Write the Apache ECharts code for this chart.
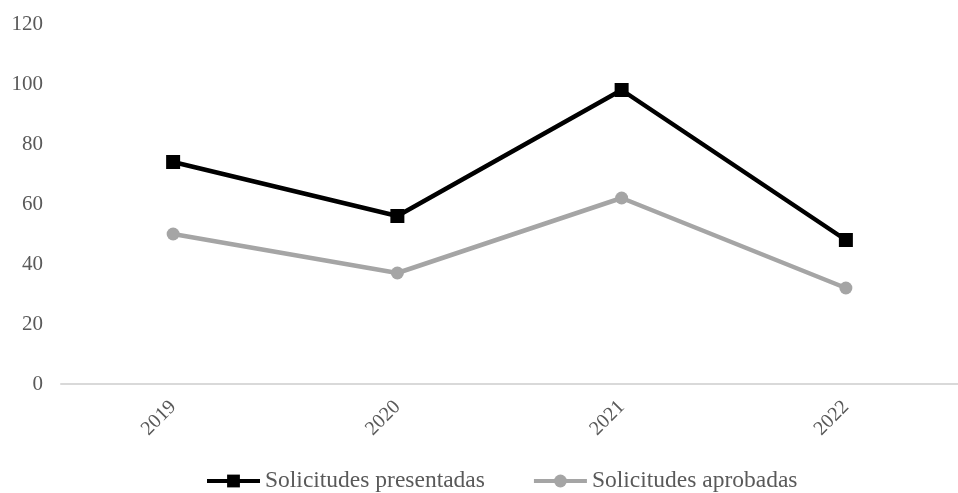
<!DOCTYPE html>
<html>
<head>
<meta charset="utf-8">
<script src="https://cdn.jsdelivr.net/npm/echarts@6/dist/echarts.min.js"></script>
<style>
  html, body { margin: 0; padding: 0; background: #fff; }
  #chart { width: 958px; height: 493px; }
</style>
</head>
<body>
<div id="chart"></div>
<script>
// Yearly applications: submitted vs. approved
const years = ['2019', '2020', '2021', '2022'];
const presentadas = [74, 56, 98, 48];
const aprobadas = [50, 37, 62, 32];
const yTicks = { min: 0, max: 120, interval: 20 };

const font = '"Liberation Serif", "Times New Roman", serif';
const textColor = '#595959';

const chart = echarts.init(document.getElementById('chart'));
chart.setOption({
  animation: false,
  // plot area runs a little past the right edge of the canvas
  grid: { left: 61, width: 912, top: 24, bottom: 109, containLabel: false },
  xAxis: {
    type: 'category',
    data: years,
    boundaryGap: true,
    axisLine: { lineStyle: { color: '#d9d9d9', width: 2 } },
    axisTick: { show: false },
    axisLabel: { rotate: 45, color: textColor, fontFamily: font, fontSize: 20, margin: 20 }
  },
  yAxis: {
    type: 'value',
    min: yTicks.min, max: yTicks.max, interval: yTicks.interval,
    axisLine: { show: false },
    axisTick: { show: false },
    splitLine: { show: false },
    axisLabel: { color: textColor, fontFamily: font, fontSize: 21, margin: 18 }
  },
  legend: {
    bottom: 0,
    left: 205,
    padding: 0,
    itemGap: 47,
    itemWidth: 53,
    itemHeight: 16,
    lineStyle: { width: 4 },
    textStyle: { color: textColor, fontFamily: font, fontSize: 23.5 },
    data: ['Solicitudes presentadas', 'Solicitudes aprobadas']
  },
  series: [
    {
      name: 'Solicitudes presentadas',
      type: 'line',
      data: presentadas,
      symbol: 'rect',
      symbolSize: 14,
      lineStyle: { color: '#000', width: 4.5 },
      itemStyle: { color: '#000' }
    },
    {
      name: 'Solicitudes aprobadas',
      type: 'line',
      data: aprobadas,
      symbol: 'circle',
      symbolSize: 13,
      lineStyle: { color: '#a5a5a5', width: 4.5 },
      itemStyle: { color: '#a5a5a5' }
    }
  ]
});
</script>
</body>
</html>
